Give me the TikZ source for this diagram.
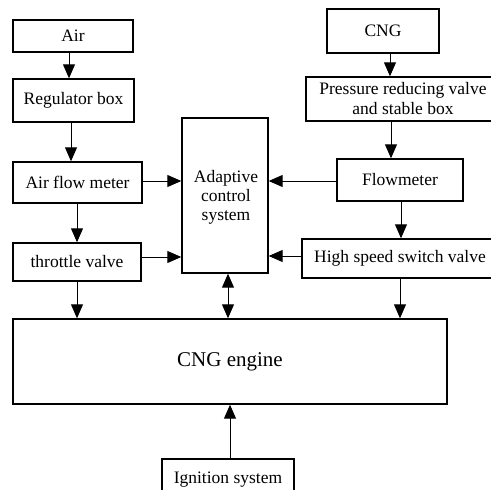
\documentclass[tikz,border=0pt]{standalone}
\usepackage{fontspec}
\setmainfont{Liberation Serif}
\usetikzlibrary{arrows.meta}

\tikzset{
  box/.style={draw, line width=1.4pt, rectangle, inner sep=0pt, align=center,
              font=\fontsize{17.5}{20}\selectfont},
  tip/.tip={Triangle[length=14pt,width=12pt]},
  arr/.style={line width=1pt, -tip},
  dblarr/.style={line width=1pt, tip-tip},
}

\begin{document}
\begin{tikzpicture}[x=1pt, y=-1pt]
  \useasboundingbox (0,0) rectangle (491,490);
  \clip (0,0) rectangle (491,490);

  % air path (left column)
  \node[box, minimum width=120pt, minimum height=32pt] (air) at (73,36) {Air};
  \node[box, minimum width=121pt, minimum height=43pt] (reg) at (73.5,100.5) {Regulator box};
  \node[box, minimum width=129pt, minimum height=41pt] (afm) at (77.5,182.5) {Air flow meter};
  \node[box, minimum width=128pt, minimum height=38pt] (thr) at (77,262) {throttle valve};

  % controller
  \node[box, minimum width=86pt, minimum height=155pt] (acs) at (225,195.5) {};
  \node[font=\fontsize{17.5}{19}\selectfont, align=center, inner sep=0pt] (acstext) at (226,197) {Adaptive\\control\\system};

  % gas path (right column)
  \node[box, minimum width=112pt, minimum height=44pt] (cng) at (383,31) {CNG};
  \node[box, minimum width=194pt, minimum height=44pt] (prv) at (403,99) {Pressure reducing valve\\and stable box};
  \node[box, minimum width=126pt, minimum height=42pt] (flow) at (400,180) {Flowmeter};
  \node[box, minimum width=196pt, minimum height=39pt] (hssv) at (400,258.5) {High speed switch valve};

  % engine and ignition
  \node[box, minimum width=434pt, minimum height=85pt, font=\fontsize{21}{24}\selectfont] (eng) at (230,361.5) {CNG engine};
  \node[box, minimum width=132pt, minimum height=42pt] (ign) at (228,480) {Ignition system};

  % air side connectors
  \draw[arr] (air.south -| 69,0) -- (reg.north -| 69,0);
  \draw[arr] (reg.south -| 71,0) -- (afm.north -| 71,0);
  \draw[arr] (afm.east |- 0,181) -- (acs.west |- 0,181);
  \draw[arr] (afm.south -| 77,0) -- (thr.north -| 77,0);
  \draw[arr] (thr.east |- 0,257) -- (acs.west |- 0,257);
  \draw[arr] (thr.south -| 77,0) -- (eng.north -| 77,0);

  % gas side connectors
  \draw[arr] (cng.south -| 390,0) -- (prv.north -| 390,0);
  \draw[arr] (prv.south -| 391,0) -- (flow.north -| 391,0);
  \draw[arr] (flow.west |- 0,181) -- (acs.east |- 0,181);
  \draw[arr] (flow.south -| 401,0) -- (hssv.north -| 401,0);
  \draw[arr] (hssv.west |- 0,256) -- (acs.east |- 0,256);
  \draw[arr] (hssv.south -| 400,0) -- (eng.north -| 400,0);

  % controller to engine, ignition to engine
  \draw[dblarr] (acs.south -| 228,0) -- (eng.north -| 228,0);
  \draw[arr] (ign.north -| 230,0) -- (eng.south -| 230,0);
\end{tikzpicture}
\end{document}
